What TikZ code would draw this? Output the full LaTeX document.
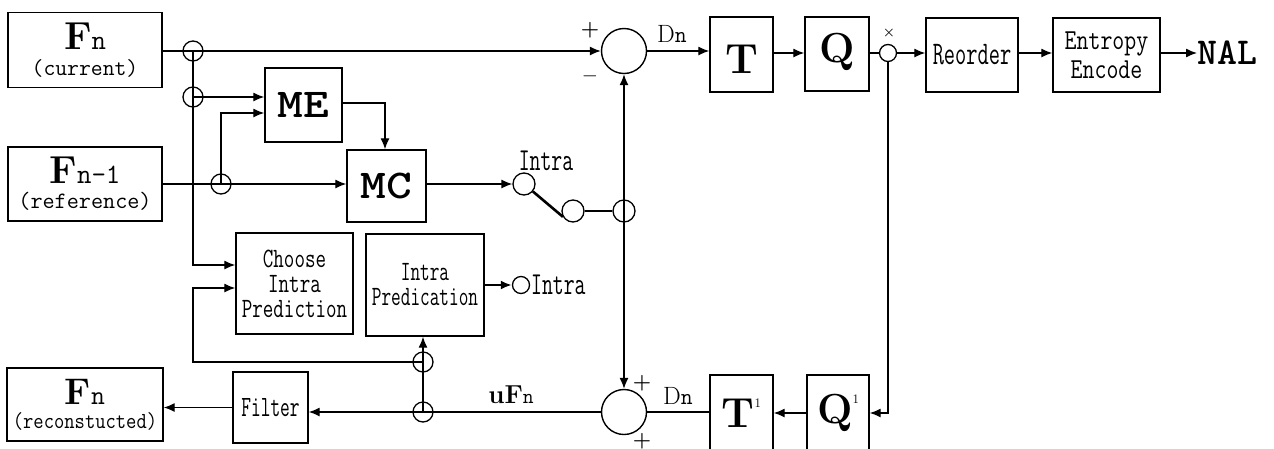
\documentclass[tikz,border=0pt]{standalone}
\usepackage{graphicx}
\usetikzlibrary{arrows.meta}
\newcommand\fsz[2]{\fontsize{#1}{#2}\selectfont}
\newcommand\hsq[2]{\scalebox{#1}[1]{#2}}
\newcommand\stk[2]{\vbox{\baselineskip=#1\lineskiplimit=-100pt\relax\halign{\hfil##\hfil\cr#2\crcr}}}
\begin{document}
\begin{tikzpicture}[x=1pt,y=-1pt,
  blk/.style={draw,line width=1.4pt,inner sep=0pt},
  arr/.style={line width=1.3pt,-{Latex[length=11pt,width=9pt]}},
  ln/.style={line width=1.3pt},
  thk/.style={line width=2.6pt},
  jn/.style={circle,draw,line width=1.3pt,inner sep=0pt,minimum size=20pt},
  smc/.style={circle,draw,line width=1.3pt,inner sep=0pt,minimum size=17pt},
  sumc/.style={circle,draw,line width=1.4pt,inner sep=0pt,minimum size=45pt},
  lbl/.style={inner sep=0pt}
]
\useasboundingbox (0,0) rectangle (1274,448);
\clip (0,0) rectangle (1274,448);

% boxes
\node[blk,minimum width=154pt,minimum height=75pt,font={\ttfamily\fsz{23}{26}}] (fncur) at (85,50)
  {\stk{26pt}{{\rmfamily\bfseries\fsz{39}{39}F}{\fsz{28}{28}n}\cr(current)}};
\node[blk,minimum width=154pt,minimum height=74pt,font={\ttfamily\fsz{23.5}{25}}] (fnref) at (85,184)
  {\stk{25pt}{{\rmfamily\bfseries\fsz{39}{39}F}{\fsz{28}{28}n-1}\cr(reference)}};
\node[blk,minimum width=156pt,minimum height=73pt,font={\ttfamily\fsz{23}{24}}] (fnrec) at (85,404.5)
  {\stk{24pt}{{\rmfamily\bfseries\fsz{37}{37}F}{\fsz{27}{27}n}\cr\hsq{.87}{(reconstucted)}}};
\node[blk,minimum width=77pt,minimum height=74pt,font={\ttfamily\bfseries\fsz{41}{41}}] (me) at (303.5,105) {\hsq{1.2}{ME}};
\node[blk,minimum width=79pt,minimum height=72pt,font={\ttfamily\bfseries\fsz{41}{41}}] (mc) at (386.5,186) {\hsq{1.2}{MC}};
\node[blk,minimum width=117pt,minimum height=101pt,font={\ttfamily\fsz{28}{25}}] (choose) at (294.5,283.5)
  {\stk{25pt}{\hsq{.73}{Choose}\cr\hsq{.73}{Intra}\cr\hsq{.73}{Prediction}}};
\node[blk,minimum width=118pt,minimum height=102pt,font={\ttfamily\fsz{28}{25}}] (ipred) at (425,285)
  {\stk{25pt}{\hsq{.67}{Intra}\cr\hsq{.67}{Predication}}};
\node[blk,minimum width=75pt,minimum height=71pt,font={\ttfamily\fsz{29.5}{30}}] (filter) at (270.5,407.5) {\hsq{.64}{Filter}};
\node[blk,minimum width=63pt,minimum height=75pt,text height=37pt,text depth=0pt,font={\rmfamily\bfseries\fsz{42}{42}}] (tbox) at (741.5,54.5) {T};
\node[blk,minimum width=64pt,minimum height=74pt,text height=29pt,text depth=13pt,font={\rmfamily\bfseries\fsz{42}{42}}] (qbox) at (837,54) {Q};
\node[blk,minimum width=92pt,minimum height=74pt,font={\ttfamily\fsz{33}{33}}] (reorder) at (972,55) {\hsq{.66}{Reorder}};
\node[blk,minimum width=107pt,minimum height=74pt,font={\ttfamily\fsz{29}{29}}] (entropy) at (1106.5,55)
  {\stk{29pt}{\hsq{.8}{Entropy}\cr\hsq{.8}{Encode}}};
\node[lbl,anchor=west,font={\ttfamily\bfseries\fsz{38}{38}}] (nal) at (1197,53) {NAL};
\node[blk,minimum width=63pt,minimum height=76pt,font={\rmfamily\bfseries\fsz{42}{42}}] (tinv) at (741.5,413)
  {T\raisebox{20pt}{\mdseries\fsz{13}{13}1}};
\node[blk,minimum width=62pt,minimum height=76pt,font={\rmfamily\bfseries\fsz{42}{42}}] (qinv) at (838,413)
  {Q\raisebox{20pt}{\mdseries\fsz{13}{13}1}};

% circles
\node[jn] (c1) at (193,51) {};
\node[jn] (c2) at (193,97) {};
\node[jn] (c3) at (221,184) {};
\node[jn,minimum size=22pt] (s1) at (524,184) {};
\node[jn,minimum size=22pt] (s2) at (573,211) {};
\node[jn,minimum size=22pt] (j) at (624,211) {};
\node[sumc] (sum1) at (624,51) {};
\node[sumc] (sum2) at (624,412) {};
\node[smc] (qc) at (888,53) {};
\node[jn] (c4) at (423,362) {};
\node[jn] (c5) at (423,412) {};
\node[smc] (ic) at (521,285) {};

% labels
\node[lbl,font={\rmfamily\bfseries\fsz{21}{21}}] (pl1) at (590,30) {+};
\node[lbl,font={\fsz{20}{20}}] (mi1) at (590,76) {$-$};
\node[lbl,font={\rmfamily\bfseries\fsz{21}{21}}] (pl2) at (642,383) {+};
\node[lbl,font={\rmfamily\bfseries\fsz{21}{21}}] (pl3) at (642,441) {+};
\node[lbl,font={\rmfamily\bfseries\fsz{14}{14}}] (xm) at (889,33) {\texttimes};
\node[lbl] (dn1) at (672,34) {{\rmfamily\fsz{25}{25}D}{\ttfamily\fsz{23}{23}n}};
\node[lbl] (dn2) at (678,396) {{\rmfamily\fsz{25}{25}D}{\ttfamily\fsz{23}{23}n}};
\node[lbl] (ufn) at (511,395) {{\rmfamily\bfseries\fsz{26}{26}uF}{\ttfamily\fsz{21}{21}n}};
\node[lbl,font={\ttfamily\fsz{32}{32}}] (intra1) at (546,161) {\hsq{.66}{Intra}};
\node[lbl,anchor=west,font={\ttfamily\fsz{32}{32}}] (intra2) at (531,285) {\hsq{.66}{Intra}};

% connectors
\coordinate (k1) at (193,265);
\coordinate (k2) at (221,113);
\coordinate (k3) at (385,103);
\coordinate (k4) at (888,413);
\coordinate (k5) at (193,362);
\coordinate (k6) at (193,288);

\draw[arr] (fncur.east |- c1) -- (sum1.west);
\draw[arr] (c1.center) -- (k1) -- (k1 -| choose.west);
\draw[arr] (c2.center) -- (c2.center -| me.west);
\draw[arr] (fnref.east) -- (fnref.east -| mc.west);
\draw[arr] (c3.center) -- (k2) -- (k2 -| me.west);
\draw[arr] (me.east |- k3) -- (k3) -- (k3 |- mc.north);
\draw[arr] (mc.east |- s1) -- (s1.west);
\draw[thk] (s1.-40) -- (s2.-150);
\draw[thk] (s2.east) -- (j.west);
\draw[arr] (j.center) -- (sum1.south);
\draw[arr] (j.center) -- (sum2.north);
\draw[arr] (sum1.east) -- (sum1.east -| tbox.west);
\draw[arr] (tbox.east |- qc) -- (qbox.west |- qc);
\draw[ln] (qbox.east |- qc) -- (qc.west);
\draw[arr] (qc.east) -- (qc.east -| reorder.west);
\draw[arr] (reorder.east |- qc) -- (entropy.west |- qc);
\draw[arr] (entropy.east |- nal.west) -- (nal.west);
\draw[arr] (qc.south) -- (k4) -- (k4 -| qinv.east);
\draw[arr] (qinv.west |- k4) -- (tinv.east |- k4);
\draw[ln] (tinv.west |- sum2) -- (sum2.east);
\draw[arr] (sum2.west) -- (sum2.west -| filter.east);
\draw[arr] (filter.west) -- (filter.west -| fnrec.east);
\draw[arr] (c5.center) -- (c5.center |- ipred.south);
\draw[arr] (c4.center) -- (k5) -- (k6) -- (k6 -| choose.west);
\draw[arr,line width=2.2pt] (ipred.east |- ic) -- (ic.west);
\end{tikzpicture}
\end{document}
